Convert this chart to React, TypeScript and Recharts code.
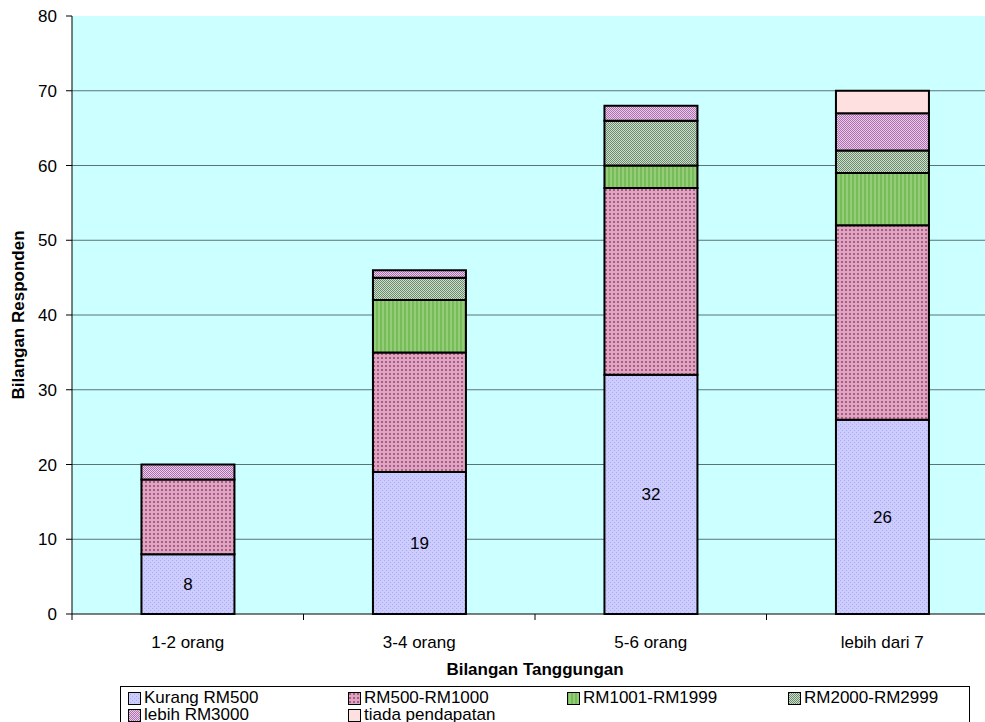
import React from 'react';
import { BarChart, Bar, XAxis, YAxis, CartesianGrid, LabelList } from 'recharts';

const categories = ['1-2 orang', '3-4 orang', '5-6 orang', 'lebih dari 7'];
const kurangRM500 = [8, 19, 32, 26];
const rm500to1000 = [10, 16, 25, 26];
const rm1001to1999 = [0, 7, 3, 7];
const rm2000to2999 = [0, 3, 6, 3];
const lebihRM3000 = [2, 1, 2, 5];
const tiadaPendapatan = [0, 0, 0, 3];
const yTicks = [0, 10, 20, 30, 40, 50, 60, 70, 80];

const FONT = '"Liberation Sans", Arial, sans-serif';

const series = [
  { key: 'kurang', name: 'Kurang RM500', values: kurangRM500, fill: 'url(#pKurang)' },
  { key: 'rm500', name: 'RM500-RM1000', values: rm500to1000, fill: 'url(#pRm500)' },
  { key: 'rm1001', name: 'RM1001-RM1999', values: rm1001to1999, fill: 'url(#pRm1001)' },
  { key: 'rm2000', name: 'RM2000-RM2999', values: rm2000to2999, fill: 'url(#pRm2000)' },
  { key: 'lebih', name: 'lebih RM3000', values: lebihRM3000, fill: 'url(#pLebih)' },
  { key: 'tiada', name: 'tiada pendapatan', values: tiadaPendapatan, fill: '#FFE0E0' },
];

const data = categories.map((name, i) => {
  const row: Record<string, any> = { name };
  series.forEach(s => { row[s.key] = s.values[i]; });
  return row;
});

// category tick: label plus Excel-style tick marks between categories
const CategoryTick = (props: any) => {
  const { x, y, payload, index, visibleTicksCount, width } = props;
  const band = width && visibleTicksCount ? width / visibleTicksCount : (payload?.offset ?? 0) * 2;
  const left = x - band / 2;
  const right = x + band / 2;
  return (
    <g>
      <line x1={left} y1={y} x2={left} y2={y + 6} stroke="#000" />
      {index === visibleTicksCount - 1 && <line x1={right} y1={y} x2={right} y2={y + 6} stroke="#000" />}
      <text x={x} y={y + 28} textAnchor="middle" dominantBaseline="central" fill="#000" fontSize={17} fontFamily={FONT}>
        {payload.value}
      </text>
    </g>
  );
};

const Patterns = () => (
  <defs>
    <pattern id="pKurang" width="4" height="4" patternUnits="userSpaceOnUse">
      <rect width="4" height="4" fill="#CCCCFF" />
      <rect x="0" y="0" width="1" height="1" fill="#ACACEC" />
      <rect x="2" y="2" width="1" height="1" fill="#ACACEC" />
    </pattern>
    <pattern id="pRm500" width="4" height="4" patternUnits="userSpaceOnUse">
      <rect width="4" height="4" fill="#DCA6C2" />
      <rect x="1" y="1" width="2" height="2" fill="#B05A80" />
    </pattern>
    <pattern id="pRm1001" width="4" height="4" patternUnits="userSpaceOnUse">
      <rect width="4" height="4" fill="#94CC78" />
      <rect x="0" y="0" width="2" height="4" fill="#76BC58" />
    </pattern>
    <pattern id="pRm2000" width="2" height="2" patternUnits="userSpaceOnUse">
      <rect width="2" height="2" fill="#D0DED0" />
      <rect x="0" y="0" width="1" height="1" fill="#6A8C6A" />
      <rect x="1" y="1" width="1" height="1" fill="#6A8C6A" />
    </pattern>
    <pattern id="pLebih" width="2" height="2" patternUnits="userSpaceOnUse">
      <rect width="2" height="2" fill="#E6CCE6" />
      <rect x="0" y="0" width="1" height="1" fill="#B070B0" />
      <rect x="1" y="1" width="1" height="1" fill="#B070B0" />
    </pattern>
  </defs>
);

const legendCols = [128, 348, 567, 788];

export default function App() {
  return (
    <div style={{ position: 'absolute', left: 0, top: 0, width: 985, height: 722, overflow: 'hidden', background: '#fff', fontFamily: FONT }}>
      <BarChart
        width={1010}
        height={722}
        data={data}
        margin={{ top: 16, right: 12, left: 0, bottom: 78 }}
        barCategoryGap="30%"
      >
        <Patterns />
        <CartesianGrid
          fill="#CCFFFF"
          vertical={false}
          stroke="#587474"
          horizontalValues={yTicks.filter(t => t > 0 && t < 80)}
        />
        <XAxis
          dataKey="name"
          height={30}
          tickSize={0}
          tickMargin={0}
          tickLine={false}
          axisLine={{ stroke: '#000' }}
          tick={<CategoryTick />}
          interval={0}
        />
        <YAxis
          width={72}
          domain={[0, 80]}
          ticks={yTicks}
          tickSize={6}
          tickMargin={9}
          axisLine={{ stroke: '#000' }}
          tickLine={{ stroke: '#000' }}
          tick={{ fill: '#000', fontSize: 17, fontFamily: FONT }}
          interval={0}
        />
        {series.map((s, i) => (
          <Bar key={s.key} dataKey={s.key} name={s.name} stackId="a" fill={s.fill} stroke="#000" strokeWidth={2} isAnimationActive={false}>
            {i === 0 && <LabelList dataKey={s.key} position="center" fill="#000" fontSize={17} fontFamily={FONT} />}
          </Bar>
        ))}
      </BarChart>

      <div style={{ position: 'absolute', left: 19, top: 315, transform: 'translate(-50%, -50%) rotate(-90deg)', whiteSpace: 'nowrap', fontWeight: 'bold', fontSize: 17 }}>
        Bilangan Responden
      </div>
      <div style={{ position: 'absolute', left: 535, top: 670, transform: 'translate(-50%, -50%)', whiteSpace: 'nowrap', fontWeight: 'bold', fontSize: 17 }}>
        Bilangan Tanggungan
      </div>

      <div style={{ position: 'absolute', left: 120, top: 686, width: 850, height: 60, border: '1px solid #000', boxSizing: 'border-box' }} />
      {series.map((s, i) => {
        const col = i % 4;
        const row = Math.floor(i / 4);
        return (
          <div key={s.key} style={{ position: 'absolute', left: legendCols[col], top: 698 + row * 17 - 9, height: 18, display: 'flex', alignItems: 'center', whiteSpace: 'nowrap', fontSize: 17, lineHeight: '18px' }}>
            <svg width={13} height={13} style={{ marginRight: 3 }}>
              <rect x={0.5} y={0.5} width={12} height={12} fill={s.fill} stroke="#000" />
            </svg>
            <span>{s.name}</span>
          </div>
        );
      })}
    </div>
  );
}
